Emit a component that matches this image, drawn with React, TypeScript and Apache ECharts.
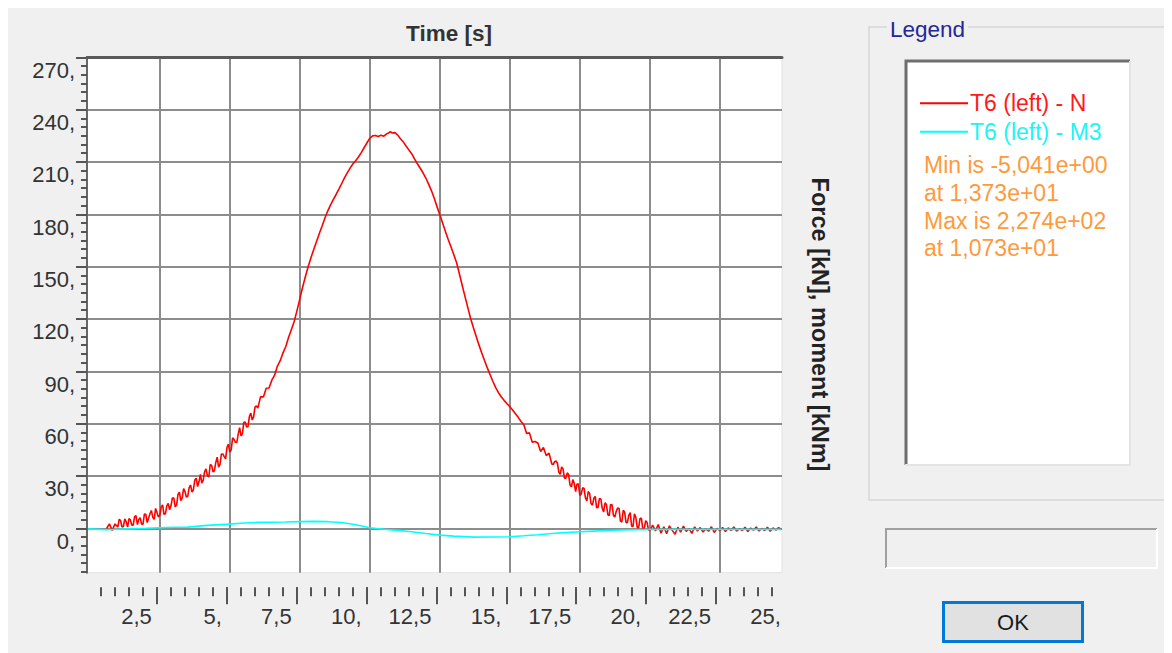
import React, { useEffect, useRef } from 'react';
import * as echarts from 'echarts';

// T6 (left) - N : [time s, force kN]
const redRise: [number, number][] = [
  [0.6, -0.1], [0.7, 2.5], [0.8, -1.2], [0.9, 2.5], [1.0, 0.7], [1.1, 4.4], [1.2, 1.1], [1.3, 3.7],
  [1.4, 5.5], [1.5, 1.8], [1.6, 6.7], [1.7, 2.1], [1.8, 6.1], [1.9, 2.4], [2.0, 8.1], [2.1, 5.7],
  [2.2, 10.2], [2.3, 5.1], [2.4, 9.0], [2.5, 7.6], [2.6, 13.4], [2.7, 8.3], [2.8, 14.2], [2.9, 13.0],
  [3.0, 17.4], [3.1, 13.3], [3.2, 20.7], [3.3, 17.5], [3.4, 21.0], [3.5, 18.5], [3.6, 24.8], [3.7, 22.1],
  [3.8, 28.7], [3.9, 26.8], [4.0, 25.9], [4.1, 32.5], [4.2, 30.2], [4.3, 36.5], [4.4, 32.4], [4.5, 37.8],
  [4.6, 35.1], [4.7, 42.6], [4.8, 41.1], [4.9, 46.4], [5.0, 43.7], [5.1, 51.8], [5.2, 49.3], [5.3, 54.0],
  [5.4, 53.0], [5.5, 60.6], [5.6, 58.0], [5.7, 64.2], [5.8, 62.1], [5.9, 69.5], [6.0, 68.9], [6.1, 75.5],
  [6.2, 75.3], [6.3, 80.3], [6.4, 80.4], [6.5, 84.9], [6.6, 87.8], [6.7, 93.0], [6.8, 96.1], [6.9, 100.6],
  [7.0, 104.2], [7.1, 109.5], [7.2, 114.0],
];
const redRiseMid: [number, number][] = [
  [1.05, 5.2], [1.15, 0.8], [1.25, 5.4], [1.35, 0.7], [1.45, 4.8], [1.55, 1.8], [1.65, 7.3], [1.75, 5.1],
  [1.85, 2.4], [1.95, 8.2], [2.05, 3.3], [2.15, 8.5], [2.25, 6.3], [2.35, 11.4], [2.45, 6.4], [2.55, 12.1],
  [2.65, 8.0], [2.75, 12.9], [2.85, 10.7], [2.95, 17.4], [3.05, 12.3], [3.15, 19.4], [3.25, 15.9], [3.35, 22.7],
  [3.45, 17.8], [3.55, 23.5], [3.65, 20.7], [3.75, 27.7], [3.85, 23.9], [3.95, 30.9], [4.05, 27.6], [4.15, 34.1],
  [4.25, 29.4], [4.35, 36.1], [4.45, 33.0], [4.55, 40.8], [4.65, 36.8], [4.75, 42.6], [4.85, 39.8], [4.95, 48.3],
  [5.05, 45.0], [5.15, 51.0], [5.25, 49.2], [5.35, 57.7], [5.45, 54.3], [5.55, 61.0], [5.65, 58.4], [5.75, 66.0],
  [5.85, 63.9], [5.95, 70.2],
];
const redPeak: [number, number][] = [
  [7.3, 118.6], [7.4, 124.8], [7.5, 131.5], [7.6, 138.2], [7.7, 144.3], [7.8, 150.1], [7.9, 155.2],
  [8.0, 160.0], [8.1, 164.5], [8.2, 169.1], [8.3, 173.4], [8.4, 178.0], [8.5, 182.0], [8.6, 185.4],
  [8.7, 188.6], [8.8, 191.5], [8.9, 194.6], [9.0, 197.8], [9.1, 201.0], [9.2, 203.9], [9.3, 206.6],
  [9.4, 209.0], [9.5, 210.9], [9.6, 213.0], [9.7, 215.5], [9.8, 218.3], [9.9, 221.0], [10.0, 223.6],
  [10.1, 225.0], [10.2, 225.2], [10.3, 224.6], [10.4, 225.3], [10.5, 224.8], [10.6, 226.1], [10.7, 226.9],
  [10.73, 227.4], [10.8, 226.6], [10.9, 226.8], [11.0, 225.4], [11.1, 223.2], [11.2, 221.4], [11.3, 219.0],
  [11.4, 216.8], [11.5, 214.6], [11.6, 211.6], [11.7, 209.0], [11.8, 206.4], [11.9, 203.8], [12.0, 200.8],
  [12.1, 197.3], [12.2, 193.6], [12.3, 189.2], [12.4, 184.4], [12.5, 179.8], [12.6, 175.0], [12.7, 170.2],
  [12.8, 165.6], [12.9, 161.3], [13.0, 156.8], [13.1, 152.2], [13.2, 145.8], [13.3, 139.2], [13.4, 132.8],
  [13.5, 126.5], [13.6, 120.3], [13.7, 115.0], [13.8, 110.0], [13.9, 105.0], [14.0, 100.4], [14.1, 96.0],
  [14.2, 91.8], [14.3, 87.9], [14.4, 84.0], [14.5, 80.5], [14.6, 77.6], [14.7, 75.3], [14.8, 73.2],
  [14.9, 71.4], [15.0, 69.7], [15.1, 67.8], [15.2, 65.7], [15.3, 63.6], [15.4, 61.2],
];
const redFall: [number, number][] = [
  [15.5, 59.3], [15.6, 54.3], [15.7, 54.7], [15.8, 49.3], [15.9, 49.8], [16.0, 48.9], [16.1, 44.0],
  [16.2, 46.3], [16.3, 41.7], [16.4, 43.1], [16.5, 36.9], [16.6, 38.2], [16.7, 37.4], [16.8, 31.0],
  [16.9, 34.0], [17.0, 28.6], [17.1, 30.8], [17.2, 23.8], [17.3, 25.8], [17.4, 25.4], [17.5, 18.9],
  [17.6, 23.2], [17.7, 17.4], [17.8, 21.1], [17.9, 14.2], [18.0, 17.2], [18.1, 11.8], [18.2, 17.0],
  [18.3, 11.5], [18.4, 14.6], [18.5, 7.8], [18.6, 13.7], [18.7, 7.4], [18.8, 9.7], [18.9, 11.5],
  [19.0, 3.6], [19.1, 9.3], [19.2, 3.4], [19.3, 9.0], [19.4, 1.1], [19.5, 6.3], [19.6, 0.2],
  [19.7, 5.7], [19.8, -0.5], [19.9, 3.4], [20.0, -1.4],
];
const redFallMid: [number, number][] = [
  [16.55, 36.6], [16.65, 38.6], [16.75, 32.2], [16.85, 35.2], [16.95, 28.9], [17.05, 31.8], [17.15, 24.8],
  [17.25, 27.9], [17.35, 21.1], [17.45, 25.4], [17.55, 19.7], [17.65, 23.0], [17.75, 15.7], [17.85, 19.9],
  [17.95, 13.3], [18.05, 18.3], [18.15, 12.0], [18.25, 16.8], [18.35, 9.4], [18.45, 13.6], [18.55, 7.3],
  [18.65, 13.5], [18.75, 6.5], [18.85, 11.6], [18.95, 4.1], [19.05, 10.3], [19.15, 3.2], [19.25, 7.6],
  [19.35, 1.2], [19.45, 8.3], [19.55, 0.5], [19.65, 5.7], [19.75, -0.6], [19.85, 4.4], [19.95, -0.7],
];
const redTail: [number, number][] = [
  [20.1, 1.8], [20.2, -1.5], [20.3, 2.2], [20.4, -2.8], [20.5, 0.9], [20.6, -3.1], [20.7, 1.4],
  [20.8, -1.2], [20.9, -3.4], [21.0, 0.6], [21.1, -2.2], [21.2, 1.3], [21.3, -1.8], [21.4, -0.2],
  [21.5, -2.9], [21.6, 0.8], [21.7, -1.5], [21.8, 0.4], [21.9, -2.1], [22.0, -0.3], [22.1, -1.7],
  [22.2, 0.9], [22.3, -2.4], [22.4, -0.1], [22.5, -1.4], [22.6, 0.5], [22.7, -1.9], [22.8, 0.2],
  [22.9, -1.2], [23.0, 0.7], [23.1, -1.6], [23.2, -0.2], [23.3, -1.3], [23.4, 0.6], [23.5, -1.8],
  [23.6, 0.1], [23.7, -1.1], [23.8, 0.8], [23.9, -1.5], [24.0, -0.1], [24.1, -1.3], [24.2, 0.6],
  [24.3, -1.7], [24.4, 0.2], [24.5, -1.0], [24.6, 0.4], [24.7, -0.8],
];

// T6 (left) - M3 : [time s, moment kNm]
const cyanM3: [number, number][] = [
  [-0.1, -0.3], [0.6, -0.8], [1.5, -0.2], [2.0, 0.0], [3.0, 0.6], [3.5, 0.7], [4.2, 1.7], [5.0, 2.4],
  [5.5, 3.0], [6.0, 3.4], [7.0, 3.6], [7.5, 3.8], [8.0, 4.0], [8.5, 3.8], [9.0, 3.3], [9.5, 2.0],
  [9.8, 1.0], [10.0, 0.3], [10.5, -0.5], [11.0, -1.2], [11.5, -2.0], [12.0, -3.0], [12.5, -3.9],
  [13.0, -4.5], [13.73, -5.04], [14.5, -5.0], [15.0, -4.8], [15.5, -4.3], [16.0, -3.7], [16.5, -3.0],
  [17.0, -2.5], [17.5, -2.0], [18.0, -1.6], [18.5, -1.3], [19.0, -1.0], [19.5, -0.8], [20.0, -0.6],
  [22.0, -0.6], [24.7, -0.6],
];

const yMajorTicks = [0, 30, 60, 90, 120, 150, 180, 210, 240, 270];
const yGridValues = [0, 30, 60, 90, 120, 150, 180, 210, 240];
const xMajorTicks = [2.5, 5, 7.5, 10, 12.5, 15, 17.5, 20, 22.5];
const xGridValues = [2.5, 5, 7.5, 10, 12.5, 15, 17.5, 20, 22.5];
const xLabelValues = [2.5, 5, 7.5, 10, 12.5, 15, 17.5, 20, 22.5, 25];
const yMinorTicks: number[] = [];
for (let v = -25; v <= 270; v += 5) yMinorTicks.push(v);
const xMinorTicks: number[] = [];
for (let i = 1; i <= 49; i++) xMinorTicks.push(i * 0.5);

const legendLines = ['T6 (left) - N', 'T6 (left) - M3'];
const statLines = ['Min is -5,041e+00', 'at 1,373e+01', 'Max is 2,274e+02', 'at 1,073e+01'];

const FONT = '"Liberation Sans", Arial, sans-serif';
const fmt = (v: number) => {
  const s = String(Math.round(v * 10) / 10);
  return s.includes('.') ? s.replace('.', ',') : s + ',';
};

export default function App() {
  const ref = useRef<HTMLDivElement>(null);
  useEffect(() => {
    document.documentElement.style.overflow = 'hidden';
    document.body.style.overflow = 'hidden';
    if (!ref.current) return;
    const chart = echarts.init(ref.current, undefined, { renderer: 'svg' });
    const tickStyle = { color: '#555555', width: 2 };
    const labelStyle = { fontSize: 22, color: '#333333', fontFamily: FONT };
    const noLine = { show: false, onZero: false };
    const redData = [...redRise, ...redRiseMid, ...redPeak, ...redFall, ...redFallMid, ...redTail]
      .slice()
      .sort((a, b) => a[0] - b[0]);
    const option: any = {
      animation: false,
      backgroundColor: '#f0f0f0',
      textStyle: { fontFamily: FONT },
      grid: {
        left: 79, top: 49.3, right: 385, bottom: 80.3,
        show: true, backgroundColor: '#ffffff', borderColor: '#e2e2e2', borderWidth: 1,
        containLabel: false, outerBoundsMode: 'none',
      },
      xAxis: [
        { type: 'value', min: -0.1, max: 24.72, position: 'bottom',
          axisLine: noLine, axisTick: { show: false }, axisLabel: { show: false }, splitLine: { show: false } },
        { type: 'value', min: 0, max: 1, position: 'top', z: 6,
          axisLine: { show: true, onZero: false, lineStyle: { color: '#5a5a5a', width: 3 } },
          axisTick: { show: false }, axisLabel: { show: false }, splitLine: { show: false } },
        { type: 'value', min: 0, max: 24.86, position: 'bottom', offset: 14.5,
          axisLine: noLine,
          axisTick: { show: true, customValues: xMinorTicks, length: 9, inside: false, lineStyle: tickStyle },
          axisLabel: { show: false }, splitLine: { show: false } },
        { type: 'value', min: 0, max: 24.86, position: 'bottom', offset: 14.5,
          axisLine: noLine,
          axisTick: { show: true, customValues: xMajorTicks, length: 17, inside: false, lineStyle: tickStyle },
          axisLabel: { show: false }, splitLine: { show: false } },
        { type: 'value', min: 0.18, max: 25.04, position: 'bottom', offset: 14.5,
          axisLine: noLine, axisTick: { show: false }, splitLine: { show: false },
          axisLabel: { show: true, customValues: xLabelValues, formatter: fmt, align: 'right', margin: 18, ...labelStyle } },
      ],
      yAxis: [
        { type: 'value', min: -25.45, max: 270, position: 'left', z: 6,
          axisLine: { show: true, onZero: false, lineStyle: { color: '#666666', width: 2 } },
          axisTick: { show: true, customValues: yMinorTicks, length: 6, lineStyle: tickStyle },
          axisLabel: { show: false }, splitLine: { show: false } },
        { type: 'value', min: -25.45, max: 270, position: 'left', z: 6,
          axisLine: noLine,
          axisTick: { show: true, customValues: yMajorTicks, length: 11, lineStyle: tickStyle },
          axisLabel: { show: true, customValues: yMajorTicks, formatter: fmt, margin: 12,
            verticalAlign: 'top', padding: [2, 0, 0, 0], ...labelStyle },
          splitLine: { show: false } },
      ],
      series: [
        {
          name: legendLines[0], type: 'line', xAxisIndex: 0, yAxisIndex: 0, z: 3,
          showSymbol: false, symbol: 'none',
          data: redData,
          lineStyle: { color: '#ff0000', width: 1.6 },
          markLine: {
            silent: true, z: 1, symbol: ['none', 'none'], animation: false,
            label: { show: false }, emphasis: { disabled: true },
            lineStyle: { color: '#8c8c8c', width: 2, type: 'solid' },
            data: [
              ...xGridValues.map((v) => ({ xAxis: v })),
              ...yGridValues.map((v) => ({ yAxis: v })),
            ],
          },
        },
        {
          name: legendLines[1], type: 'line', xAxisIndex: 0, yAxisIndex: 0, z: 4,
          showSymbol: false, symbol: 'none', data: cyanM3,
          lineStyle: { color: '#00ffff', width: 1.6 },
        },
      ],
      graphic: {
        elements: [
          { type: 'text', x: 441, y: 25, style: { text: 'Time [s]', fontSize: 22.5, fontWeight: 'bold', fontFamily: FONT, fill: '#333333', align: 'center', verticalAlign: 'middle' } },
          { type: 'text', x: 812, y: 316.5, rotation: -Math.PI / 2, style: { text: 'Force [kN], moment [kNm]', fontSize: 23.5, fontWeight: 'bold', fontFamily: FONT, fill: '#222222', align: 'center', verticalAlign: 'middle' } },
          // group box
          { type: 'rect', shape: { x: 861, y: 19, width: 297, height: 473 }, style: { fill: 'none', stroke: '#d6d6d6', lineWidth: 1.5 } },
          { type: 'text', x: 879, y: 21, style: { text: 'Legend', fontSize: 22.5, fontFamily: FONT, fill: '#262699', align: 'left', verticalAlign: 'middle', backgroundColor: '#f0f0f0', padding: [0, 3, 0, 3] } },
          // list box
          { type: 'rect', shape: { x: 897, y: 52, width: 225, height: 405 }, style: { fill: '#ffffff' } },
          { type: 'polyline', shape: { points: [[898, 457], [898, 53], [1122, 53]] }, style: { stroke: '#6e6e6e', lineWidth: 3, fill: 'none' } },
          { type: 'polyline', shape: { points: [[1122, 53], [1122, 457], [897, 457]] }, style: { stroke: '#e4e4e4', lineWidth: 2, fill: 'none' } },
          { type: 'line', shape: { x1: 912, y1: 95.3, x2: 960, y2: 95.3 }, style: { stroke: '#ff0000', lineWidth: 2 } },
          { type: 'text', x: 962, y: 95.3, style: { text: legendLines[0], fontSize: 23, fontFamily: FONT, fill: '#ff1a1a', align: 'left', verticalAlign: 'middle' } },
          { type: 'line', shape: { x1: 912, y1: 123.7, x2: 960, y2: 123.7 }, style: { stroke: '#00ffff', lineWidth: 2 } },
          { type: 'text', x: 962, y: 123.7, style: { text: legendLines[1], fontSize: 23, fontFamily: FONT, fill: '#22f4f4', align: 'left', verticalAlign: 'middle' } },
          ...statLines.map((t, i) => ({
            type: 'text', x: 916, y: 157 + i * 27.8,
            style: { text: t, fontSize: 23, fontFamily: FONT, fill: '#ff9a3c', align: 'left', verticalAlign: 'middle' },
          })),
          // status box
          { type: 'rect', shape: { x: 877, y: 520, width: 272, height: 40 }, style: { fill: '#f0f0f0' } },
          { type: 'polyline', shape: { points: [[878, 560], [878, 521], [1149, 521]] }, style: { stroke: '#a0a0a0', lineWidth: 2, fill: 'none' } },
          { type: 'polyline', shape: { points: [[1149, 521], [1149, 560], [878, 560]] }, style: { stroke: '#ffffff', lineWidth: 2, fill: 'none' } },
          // OK button
          { type: 'rect', shape: { x: 935.5, y: 594.5, width: 139, height: 39 }, style: { fill: '#e1e1e1', stroke: '#0078d7', lineWidth: 3 } },
          { type: 'text', x: 1005, y: 614, style: { text: 'OK', fontSize: 22, fontFamily: FONT, fill: '#1a1a1a', align: 'center', verticalAlign: 'middle' } },
        ],
      },
    };
    chart.setOption(option);
    return () => chart.dispose();
  }, []);
  return <div ref={ref} style={{ width: 1159, height: 645, background: '#f0f0f0' }} />;
}
